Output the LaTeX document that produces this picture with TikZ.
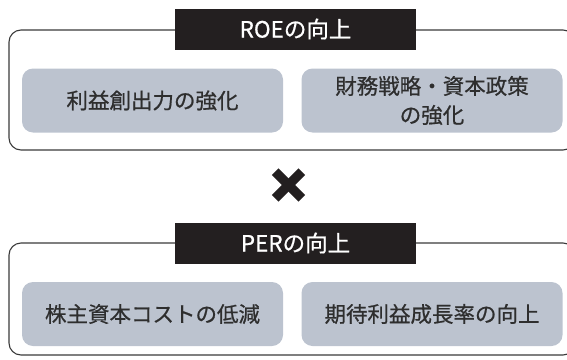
\documentclass[tikz,border=0pt]{standalone}
\usepackage{fontspec}
\setmainfont{Noto Sans CJK JP}[FakeBold=0.7]
\usepackage{xcolor}
\usepackage{tikz}
\usetikzlibrary{positioning}
\definecolor{boxgray}{HTML}{BCC3CF}
\definecolor{titleblack}{HTML}{231F20}
\definecolor{linegray}{HTML}{3A3A3A}
\definecolor{textgray}{HTML}{2E2E2E}
\tikzstyle{frame} = [rectangle, rounded corners=12pt, draw=linegray, line width=1.1pt, minimum width=566pt, inner sep=0pt]
\tikzstyle{title} = [rectangle, fill=titleblack, text=white, minimum width=241pt, minimum height=41pt, inner sep=0pt, font=\fontsize{22.5}{27}\selectfont]
\tikzstyle{item} = [rectangle, rounded corners=11pt, fill=boxgray, text=textgray, minimum width=261pt, minimum height=64pt, inner sep=0pt, align=center, font=\fontsize{21.5}{29}\selectfont]
\tikzstyle{crossline} = [line width=9.5pt, titleblack]

\begin{document}
\begin{tikzpicture}[x=1pt, y=-1pt]
   \useasboundingbox (0,0) rectangle (567,359);
   \clip (0,0) rectangle (567,359);
   % ROE
   \node (roe) [frame, minimum height=120pt] at (292,90) {};
   \node (roet) [title] at (295.5,29) {ROEの向上};
   \node (rieki) [item] at (152.5,100.5) {利益創出力の強化};
   \node (zaimu) [item] at (432,100.5) {財務戦略・資本政策\\の強化};
   % x
   \coordinate (cross) at (288.5,185);
   \draw [crossline] (cross) ++(-13.3,-13.3) -- ++(26.6,26.6);
   \draw [crossline] (cross) ++(-13.3,13.3) -- ++(26.6,-26.6);
   % PER
   \node (per) [frame, minimum height=112pt] at (292,299) {};
   \node (pert) [title] at (295.5,243) {PERの向上};
   \node (cost) [item] at (152.5,314) {株主資本コストの低減};
   \node (seicho) [item] at (432,314) {期待利益成長率の向上};
\end{tikzpicture}
\end{document}
